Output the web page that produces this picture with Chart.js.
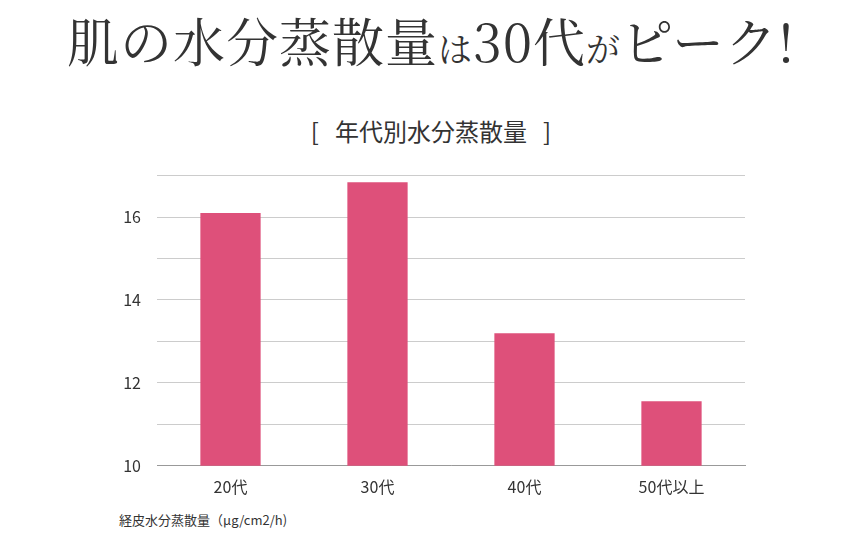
<!DOCTYPE html>
<html><head><meta charset="utf-8">
<script src="https://cdn.jsdelivr.net/npm/chart.js@4"></script>
<style>
body{margin:0;width:862px;height:539px;background:#fff;position:relative;overflow:hidden;font-family:"Noto Sans CJK JP",sans-serif;}
#t{position:absolute;left:0;width:862px;top:2px;text-align:center;font-family:"Noto Serif CJK JP","Noto Sans CJK JP",serif;font-size:52px;color:#333;letter-spacing:1px;white-space:nowrap;}
#t small{font-size:34px;}
#s{position:absolute;left:0;width:862px;top:113px;text-align:center;font-size:24px;color:#333;}
#f{position:absolute;left:119px;top:510px;font-size:13px;color:#333;}
#c{position:absolute;left:0;top:150px;width:862px;height:356px;}
</style></head><body>
<div id="t">肌の水分蒸散量<small>は</small>30代<small>が</small>ピーク!</div>
<div id="s">[&nbsp;&nbsp;&nbsp;年代別水分蒸散量&nbsp;&nbsp;&nbsp;]</div>
<div id="f">経皮水分蒸散量（μg/cm2/h)</div>
<div id="c"><canvas id="cv"></canvas></div>
<script>
const categories=["20代","30代","40代","50代以上"];
const values=[16.1,16.84,13.2,11.56];
const yTicks=[10,12,14,16];
new Chart(document.getElementById('cv'),{
type:'bar',
data:{labels:categories,datasets:[{data:values,backgroundColor:'#de507a',barPercentage:0.41,categoryPercentage:1}]},
options:{responsive:true,maintainAspectRatio:false,animation:false,
layout:{padding:{top:11,right:117,bottom:5,left:0}},
plugins:{legend:{display:false},tooltip:{enabled:false}},
scales:{
x:{grid:{display:false},border:{color:'#999'},ticks:{color:'#333',font:{size:16,family:'"Noto Sans CJK JP"'},padding:4}},
y:{min:10,max:17,afterFit:s=>{s.width=157;},border:{display:false},grid:{color:'#ccc',drawTicks:false},
ticks:{stepSize:1,color:'#333',padding:16,font:{size:16,family:'"Noto Sans CJK JP"'},callback:v=>yTicks.includes(v)?String(v):''}}
}}
});
</script></body></html>
